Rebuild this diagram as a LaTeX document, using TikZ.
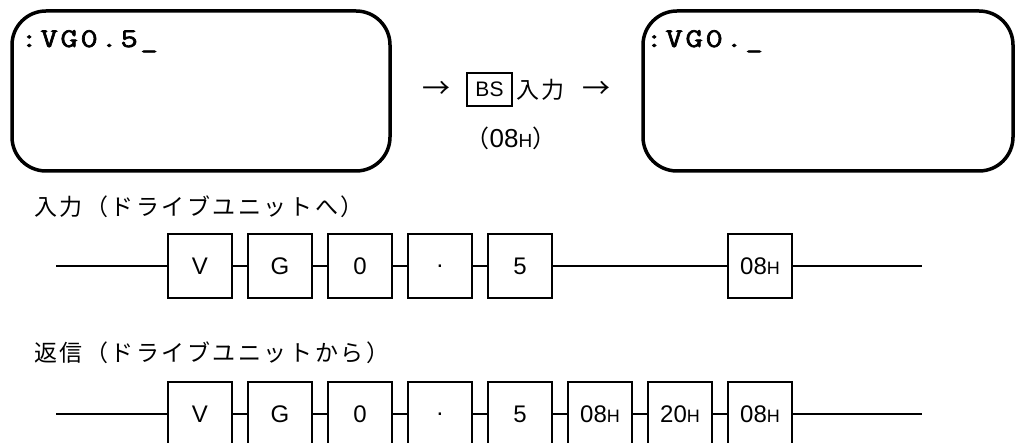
\documentclass[tikz,border=0pt]{standalone}
\usepackage{fontspec}
\setmainfont{Liberation Sans}
\newfontfamily\jp{Noto Sans CJK JP}
\newfontfamily\jpsp[LetterSpace=11]{Noto Sans CJK JP}
\newfontfamily\monob[FakeBold=2.5,FakeStretch=1.25]{Latin Modern Mono}
\newcommand{\hsub}{{\fontsize{18}{20}\selectfont H}}
\newcommand{\mc}[1]{\makebox[20pt][c]{#1}}
\begin{document}
\begin{tikzpicture}[x=1pt,y=-1pt,
  screen/.style={draw, line width=3.5pt, rounded corners=34pt, inner sep=0pt},
  scrtext/.style={anchor=base west, inner sep=0pt, font=\monob\fontsize{27}{30}\selectfont},
  cell/.style={draw, line width=2pt, minimum width=64pt, minimum height=64pt, inner sep=0pt, font=\fontsize{24}{28}\selectfont},
  wire/.style={line width=2pt},
  keybox/.style={draw, line width=1.5pt, minimum width=45pt, minimum height=33pt, inner sep=0pt, font=\fontsize{21}{24}\selectfont},
  jptext/.style={inner sep=0pt, font=\jpsp\fontsize{23}{26}\selectfont},
  arrowtext/.style={inner sep=0pt, font=\jp\fontsize{28}{30}\selectfont}]
\useasboundingbox (0,0) rectangle (1015,443);
\clip (0,0) rectangle (1015,443);
% screens
\node[screen, minimum width=378pt, minimum height=160pt] (scrL) at (201,91) {};
\node[screen, minimum width=370pt, minimum height=160pt] (scrR) at (828,91) {};
\node[scrtext] (txtL) at (19,47) {\mc{:}\mc{V}\mc{G}\mc{0}\mc{.}\mc{5}\mc{\_}};
\node[scrtext] (txtR) at (644,47) {\mc{:}\mc{V}\mc{G}\mc{0}\mc{.}\mc{\_}};
% middle
\node[arrowtext] (a1) at (436,90) {→};
\node[keybox] (bs) at (489.5,89.5) {BS};
\node[jptext, anchor=west] (nyu) at (516,90) {入力};
\node[arrowtext] (a2) at (596,90) {→};
\node[inner sep=0pt, font=\fontsize{26}{30}\selectfont] (code) at (511,138) {{\jp\fontsize{24}{28}\selectfont（}08{\fontsize{19}{20}\selectfont H}{\jp\fontsize{24}{28}\selectfont）}};
% headings
\node[jptext, anchor=west] (h1) at (34,207) {入力（ドライブユニットへ）};
\node[jptext, anchor=west] (h2) at (34,353) {返信（ドライブユニットから）};
% row 1
\node[cell] (v1) at (200,266) {V};
\node[cell] (g1) at (280,266) {G};
\node[cell] (z1) at (360,266) {0};
\node[cell] (d1) at (440,266) {.};
\node[cell] (f1) at (520,266) {5};
\node[cell] (b1) at (760,266) {08\hsub};
\coordinate (s1) at (56,266);
\coordinate (e1) at (922,266);
\draw[wire] (s1) -- (v1.west) (v1.east) -- (g1.west) (g1.east) -- (z1.west)
  (z1.east) -- (d1.west) (d1.east) -- (f1.west) (f1.east) -- (b1.west) (b1.east) -- (e1);
% row 2
\node[cell] (v2) at (200,414) {V};
\node[cell] (g2) at (280,414) {G};
\node[cell] (z2) at (360,414) {0};
\node[cell] (d2) at (440,414) {.};
\node[cell] (f2) at (520,414) {5};
\node[cell] (b2) at (600,414) {08\hsub};
\node[cell] (w2) at (680,414) {20\hsub};
\node[cell] (c2) at (760,414) {08\hsub};
\coordinate (s2) at (56,414);
\coordinate (e2) at (922,414);
\draw[wire] (s2) -- (v2.west) (v2.east) -- (g2.west) (g2.east) -- (z2.west)
  (z2.east) -- (d2.west) (d2.east) -- (f2.west) (f2.east) -- (b2.west)
  (b2.east) -- (w2.west) (w2.east) -- (c2.west) (c2.east) -- (e2);
\end{tikzpicture}
\end{document}
